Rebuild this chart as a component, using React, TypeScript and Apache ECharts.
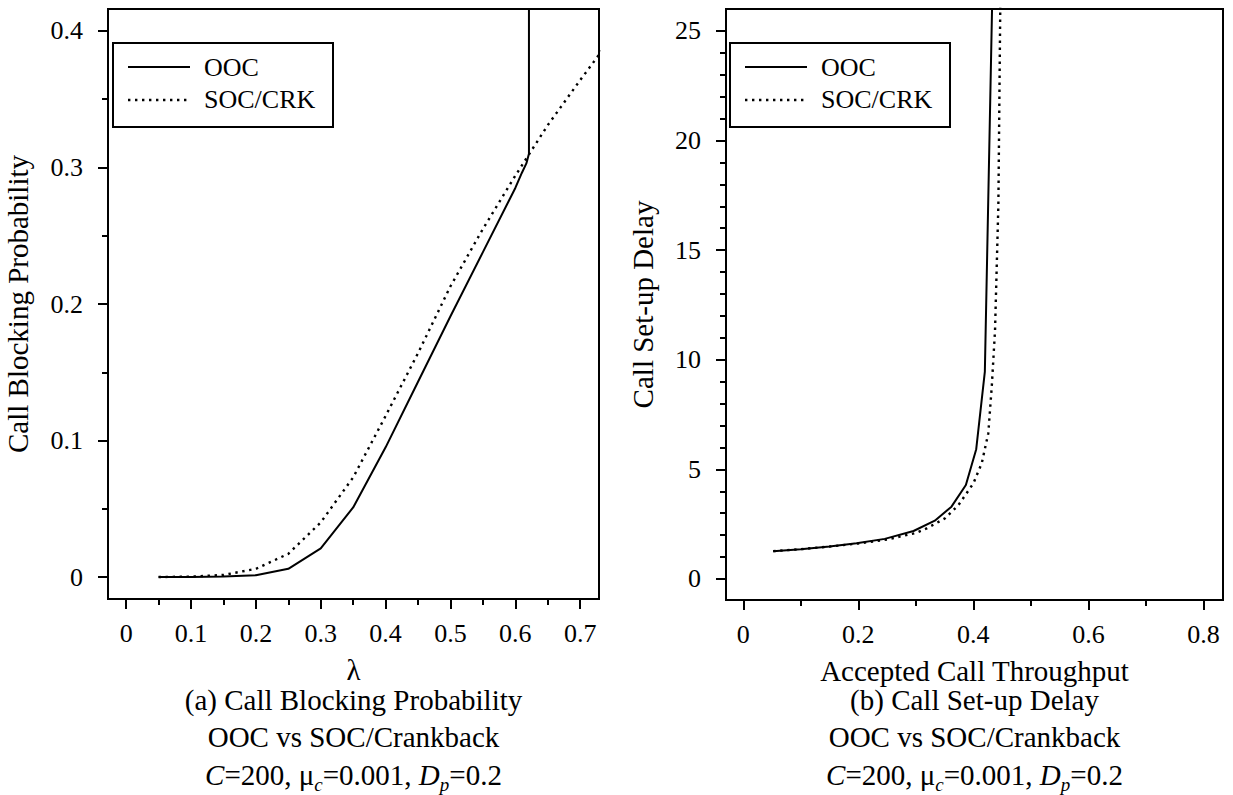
import React, { useEffect, useRef } from 'react';
import * as echarts from 'echarts';

// ---------- Data ----------
// (a) Call blocking probability vs lambda
const lambdaOOC = [0.05, 0.1, 0.15, 0.2, 0.25, 0.3, 0.35, 0.4, 0.45, 0.5, 0.55, 0.6, 0.61, 0.617, 0.621, 0.621];
const blockOOC = [0, 0, 0.0003, 0.0013, 0.006, 0.021, 0.051, 0.095, 0.143, 0.191, 0.238, 0.285, 0.296, 0.303, 0.31, 0.6];
const lambdaSOC = [0.05, 0.1, 0.15, 0.2, 0.25, 0.3, 0.35, 0.4, 0.45, 0.5, 0.55, 0.6, 0.65, 0.7, 0.75];
const blockSOC = [0, 0.0003, 0.0015, 0.006, 0.017, 0.04, 0.073, 0.118, 0.164, 0.213, 0.255, 0.294, 0.331, 0.364, 0.396];

// (b) Call set-up delay vs accepted call throughput
const thrOOC = [0.052, 0.1, 0.15, 0.197, 0.246, 0.296, 0.333, 0.362, 0.387, 0.405, 0.42, 0.434];
const delayOOC = [1.27, 1.36, 1.48, 1.63, 1.83, 2.19, 2.66, 3.3, 4.29, 5.92, 9.46, 28];
const thrSOC = [0.052, 0.1, 0.15, 0.2, 0.25, 0.3, 0.319, 0.351, 0.374, 0.4, 0.4146, 0.426, 0.432, 0.4377, 0.4435, 0.4475];
const delaySOC = [1.27, 1.36, 1.48, 1.62, 1.8, 2.1, 2.31, 2.77, 3.37, 4.36, 5.28, 6.65, 8.77, 11.36, 17.06, 28];

// Tick values
const lambdaTicks = [0, 0.1, 0.2, 0.3, 0.4, 0.5, 0.6, 0.7];
const lambdaMinor = [0.05, 0.15, 0.25, 0.35, 0.45, 0.55, 0.65];
const blockTicks = [0, 0.1, 0.2, 0.3, 0.4];
const blockMinor = [0.05, 0.15, 0.25, 0.35];
const thrTicks = [0, 0.2, 0.4, 0.6, 0.8];
const thrMinor = [0.1, 0.3, 0.5, 0.7];
const delayTicks = [0, 5, 10, 15, 20, 25];
const delayMinor = [1, 2, 3, 4, 6, 7, 8, 9, 11, 12, 13, 14, 16, 17, 18, 19, 21, 22, 23, 24];

// Texts
const seriesNames = ['OOC', 'SOC/CRK'];
const captionA = '(a) Call Blocking Probability\nOOC vs SOC/Crankback\n{i|C}=200, μ{sub|c}=0.001, {i|D}{sub|p}=0.2';
const captionB = '(b) Call Set-up Delay\nOOC vs SOC/Crankback\n{i|C}=200, μ{sub|c}=0.001, {i|D}{sub|p}=0.2';

const FONT = 'Liberation Serif';
const DOT = [2.4, 4.6];

function mainAxis(gridIndex: number, pos: string, min: number, max: number, ticks: number[], margin: number, name: string, nameGap: number) {
  return {
    type: 'value',
    gridIndex,
    position: pos,
    min,
    max,
    name,
    nameLocation: 'middle',
    nameGap,
    nameTextStyle: { fontFamily: FONT, fontSize: 29, color: '#000' },
    axisLine: { show: true, onZero: false, lineStyle: { color: '#000', width: 2 } },
    axisTick: { show: true, customValues: ticks, length: 10, lineStyle: { color: '#000', width: 2 } },
    axisLabel: {
      show: true,
      customValues: ticks,
      margin,
      fontFamily: FONT,
      fontSize: 26,
      color: '#000',
      formatter: (v: number) => String(v),
    },
    splitLine: { show: false },
    minorTick: { show: false },
  };
}

function minorAxis(gridIndex: number, pos: string, min: number, max: number, ticks: number[]) {
  return {
    type: 'value',
    gridIndex,
    position: pos,
    min,
    max,
    axisLine: { show: false, onZero: false },
    axisTick: { show: true, customValues: ticks, length: 6, lineStyle: { color: '#000', width: 2 } },
    axisLabel: { show: false },
    splitLine: { show: false },
  };
}

function legend(left: number) {
  return [
    { type: 'rect', z: 100, shape: { x: left, y: 43, width: 220, height: 84 }, style: { fill: '#fff', stroke: '#000', lineWidth: 2 } },
    { type: 'line', z: 101, shape: { x1: left + 15, y1: 67, x2: left + 77, y2: 67 }, style: { stroke: '#000', lineWidth: 2 } },
    { type: 'text', z: 101, x: left + 91, y: 67.5, style: { text: seriesNames[0], fontFamily: FONT, fontSize: 26, fill: '#000', verticalAlign: 'middle' } },
    { type: 'line', z: 101, shape: { x1: left + 15, y1: 100, x2: left + 77, y2: 100 }, style: { stroke: '#000', lineWidth: 2.4, lineDash: DOT } },
    { type: 'text', z: 101, x: left + 91, y: 99.5, style: { text: seriesNames[1], fontFamily: FONT, fontSize: 26, fill: '#000', verticalAlign: 'middle' } },
  ];
}

function caption(cx: number, text: string) {
  return {
    type: 'text',
    x: cx,
    y: 681,
    style: {
      text,
      fontFamily: FONT,
      fontSize: 29,
      lineHeight: 37.5,
      fill: '#000',
      align: 'center',
      verticalAlign: 'top',
      rich: {
        i: { fontFamily: FONT, fontSize: 29, lineHeight: 37.5, fontStyle: 'italic', fill: '#000' },
        sub: { fontFamily: FONT, fontSize: 19, lineHeight: 19, fontStyle: 'italic', verticalAlign: 'bottom', fill: '#000' },
      },
    },
  };
}

function toPairs(xs: number[], ys: number[]) {
  return xs.map((x, i) => [x, ys[i]]);
}

export default function App() {
  const ref = useRef<HTMLDivElement>(null);
  useEffect(() => {
    const chart = echarts.init(ref.current!, null, { renderer: 'svg' });
    const option: any = {
      animation: false,
      backgroundColor: '#fff',
      textStyle: { fontFamily: FONT },
      grid: [
        { left: 108, top: 9, width: 491, height: 590, show: true, borderColor: '#000', borderWidth: 2, backgroundColor: 'transparent' },
        { left: 726, top: 9, width: 497, height: 591, show: true, borderColor: '#000', borderWidth: 2, backgroundColor: 'transparent' },
      ],
      xAxis: [
        mainAxis(0, 'bottom', -0.028, 0.729, lambdaTicks, 21, 'λ', 56),
        minorAxis(0, 'bottom', -0.028, 0.729, lambdaMinor),
        mainAxis(1, 'bottom', -0.03, 0.834, thrTicks, 21, 'Accepted Call Throughput', 56),
        minorAxis(1, 'bottom', -0.03, 0.834, thrMinor),
      ],
      yAxis: [
        mainAxis(0, 'left', -0.0161, 0.4161, blockTicks, 25, 'Call Blocking Probability', 76),
        minorAxis(0, 'left', -0.0161, 0.4161, blockMinor),
        mainAxis(1, 'left', -0.958, 26.0, delayTicks, 25, 'Call Set-up Delay', 69),
        minorAxis(1, 'left', -0.958, 26.0, delayMinor),
      ],
      series: [
        {
          type: 'line', name: seriesNames[0], xAxisIndex: 0, yAxisIndex: 0,
          data: toPairs(lambdaOOC, blockOOC), symbol: 'none', clip: true,
          lineStyle: { color: '#000', width: 2 },
        },
        {
          type: 'line', name: seriesNames[1], xAxisIndex: 0, yAxisIndex: 0,
          data: toPairs(lambdaSOC, blockSOC), symbol: 'none', clip: true,
          lineStyle: { color: '#000', width: 2.4, type: DOT, cap: 'butt' },
        },
        {
          type: 'line', name: seriesNames[0], xAxisIndex: 2, yAxisIndex: 2,
          data: toPairs(thrOOC, delayOOC), symbol: 'none', clip: true,
          lineStyle: { color: '#000', width: 2 },
        },
        {
          type: 'line', name: seriesNames[1], xAxisIndex: 2, yAxisIndex: 2,
          data: toPairs(thrSOC, delaySOC), symbol: 'none', clip: true,
          lineStyle: { color: '#000', width: 2.4, type: DOT, cap: 'butt' },
        },
      ],
      graphic: [
        ...legend(113),
        ...legend(730),
        caption(353.5, captionA),
        caption(974.5, captionB),
      ],
    };
    chart.setOption(option);
    return () => chart.dispose();
  }, []);
  return <div ref={ref} style={{ position: 'absolute', left: 0, top: 0, width: 1233, height: 795, background: '#fff' }} />;
}
